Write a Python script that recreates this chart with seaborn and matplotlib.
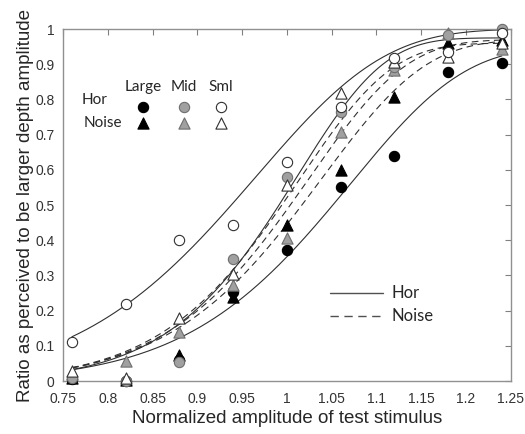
import numpy as np
import pandas as pd
import matplotlib
matplotlib.use("Agg")
import matplotlib.pyplot as plt
import seaborn as sns

# --------------------------------------------------
# Data
# --------------------------------------------------
x_levels = [0.76, 0.82, 0.88, 0.94, 1.00, 1.06, 1.12, 1.18, 1.24]

hor_large = [0.005, 0.0, 0.060, 0.253, 0.372, 0.552, 0.640, 0.877, 0.903]
hor_mid = [0.010, 0.0, 0.055, 0.346, 0.580, 0.765, 0.892, 0.983, 1.000]
hor_sml = [0.110, 0.220, 0.400, 0.443, 0.622, 0.780, 0.917, 0.935, 0.990]

noise_large = [0.010, 0.003, 0.074, 0.240, 0.443, 0.600, 0.807, 0.960, 0.970]
noise_mid = [0.020, 0.057, 0.140, 0.273, 0.406, 0.708, 0.884, 0.990, 0.943]
noise_sml = [0.028, 0.010, 0.180, 0.305, 0.557, 0.818, 0.906, 0.920, 0.960]

# fitted psychometric (Weibull) parameters, order: Large, Mid, Sml
hor_alpha = [1.084, 1.020, 0.983]
hor_beta = [9.5, 11.5, 7.8]
hor_lapse = [0.05, 0.025, 0.0]

noise_alpha = [1.050, 1.035, 1.023]
noise_beta = [10.0, 10.5, 10.8]
noise_lapse = [0.03, 0.03, 0.04]

size_names = ["Large", "Mid", "Sml"]
x_ticks = [0.75, 0.8, 0.85, 0.9, 0.95, 1.0, 1.05, 1.1, 1.15, 1.2, 1.25]
x_tick_labels = ["0.75", "0.8", "0.85", "0.9", "0.95", "1", "1.05", "1.1", "1.15", "1.2", "1.25"]
y_ticks = [0, 0.1, 0.2, 0.3, 0.4, 0.5, 0.6, 0.7, 0.8, 0.9, 1.0]
y_tick_labels = ["0", "0.1", "0.2", "0.3", "0.4", "0.5", "0.6", "0.7", "0.8", "0.9", "1"]


def weibull(x, alpha, beta, lapse):
    return (1 - lapse) * (1 - np.exp(-(x / alpha) ** beta))


# --------------------------------------------------
# Plot
# --------------------------------------------------
sns.set_style("white")
plt.rcParams["font.family"] = ["Liberation Sans", "DejaVu Sans"]

fig = plt.figure(figsize=(5.25, 4.34), dpi=100)
ax = fig.add_axes([0.12, 0.122, 0.853, 0.811])

xs = np.linspace(0.76, 1.24, 300)
curves = []
for cond, al, be, la in [("Hor", hor_alpha, hor_beta, hor_lapse),
                         ("Noise", noise_alpha, noise_beta, noise_lapse)]:
    for name, a, b, l in zip(size_names, al, be, la):
        curves.append(pd.DataFrame({"x": xs, "p": weibull(xs, a, b, l),
                                    "cond": cond, "size": name}))
curve_df = pd.concat(curves)

for (cond, name), sub in curve_df.groupby(["cond", "size"]):
    sns.lineplot(data=sub, x="x", y="p", ax=ax, color="#303030",
                 linewidth=0.8,
                 linestyle="-" if cond == "Hor" else (0, (6, 4)))

fills = {"Large": "black", "Mid": "#a0a0a0", "Sml": "white"}
edges = {"Large": "black", "Mid": "#6e6e6e", "Sml": "#303030"}

series = [("Noise", "Large", noise_large), ("Hor", "Large", hor_large),
          ("Noise", "Mid", noise_mid), ("Hor", "Mid", hor_mid),
          ("Noise", "Sml", noise_sml), ("Hor", "Sml", hor_sml)]
for cond, name, vals in series:
    sns.scatterplot(x=x_levels, y=vals, ax=ax,
                    marker="o" if cond == "Hor" else "^",
                    s=55 if cond == "Hor" else 65,
                    color=fills[name], edgecolor=edges[name],
                    linewidth=0.8, zorder=3, clip_on=False)

ax.set_xlim(0.75, 1.25)
ax.set_ylim(0, 1)
ax.set_xticks(x_ticks)
ax.set_xticklabels(x_tick_labels)
ax.set_yticks(y_ticks)
ax.set_yticklabels(y_tick_labels)
ax.tick_params(direction="in", length=4, width=0.8, color="#808080",
               top=True, right=True, labelsize=10, labelcolor="#333333")
ax.tick_params(axis="x", pad=8)
ax.tick_params(axis="y", pad=6)
for sp in ax.spines.values():
    sp.set_color("#909090")
    sp.set_linewidth(1.0)
    sp.set_visible(True)

ax.set_xlabel("Normalized amplitude of test stimulus", fontsize=13.5, labelpad=3)
ax.set_ylabel("Ratio as perceived to be larger depth amplitude", fontsize=13.5,
              labelpad=1)

# marker legend (top left)
leg_font = ["Lato", "DejaVu Sans"]
for name, xpos in zip(size_names, [0.179, 0.270, 0.353]):
    ax.text(xpos, 0.835, name, transform=ax.transAxes, ha="center",
            va="center", fontsize=11, family=leg_font)
    ax.scatter([xpos], [0.778], transform=ax.transAxes, marker="o", s=55,
               color=fills[name], edgecolor=edges[name], linewidth=0.8)
    ax.scatter([xpos], [0.733], transform=ax.transAxes, marker="^", s=65,
               color=fills[name], edgecolor=edges[name], linewidth=0.8)
ax.text(0.042, 0.798, "Hor", transform=ax.transAxes, ha="left", va="center",
        fontsize=11, family=leg_font)
ax.text(0.045, 0.733, "Noise", transform=ax.transAxes, ha="left", va="center",
        fontsize=11, family=leg_font)

# line legend (bottom right)
ax.plot([0.596, 0.714], [0.25, 0.25], transform=ax.transAxes,
        color="#505050", linewidth=1.0)
ax.plot([0.596, 0.714], [0.185, 0.185], transform=ax.transAxes,
        color="#505050", linewidth=1.0, linestyle=(0, (6, 4)))
ax.text(0.734, 0.25, "Hor", transform=ax.transAxes, va="center",
        fontsize=12, family=leg_font)
ax.text(0.734, 0.185, "Noise", transform=ax.transAxes, va="center",
        fontsize=12, family=leg_font)

fig.savefig("out.png", dpi=100)
